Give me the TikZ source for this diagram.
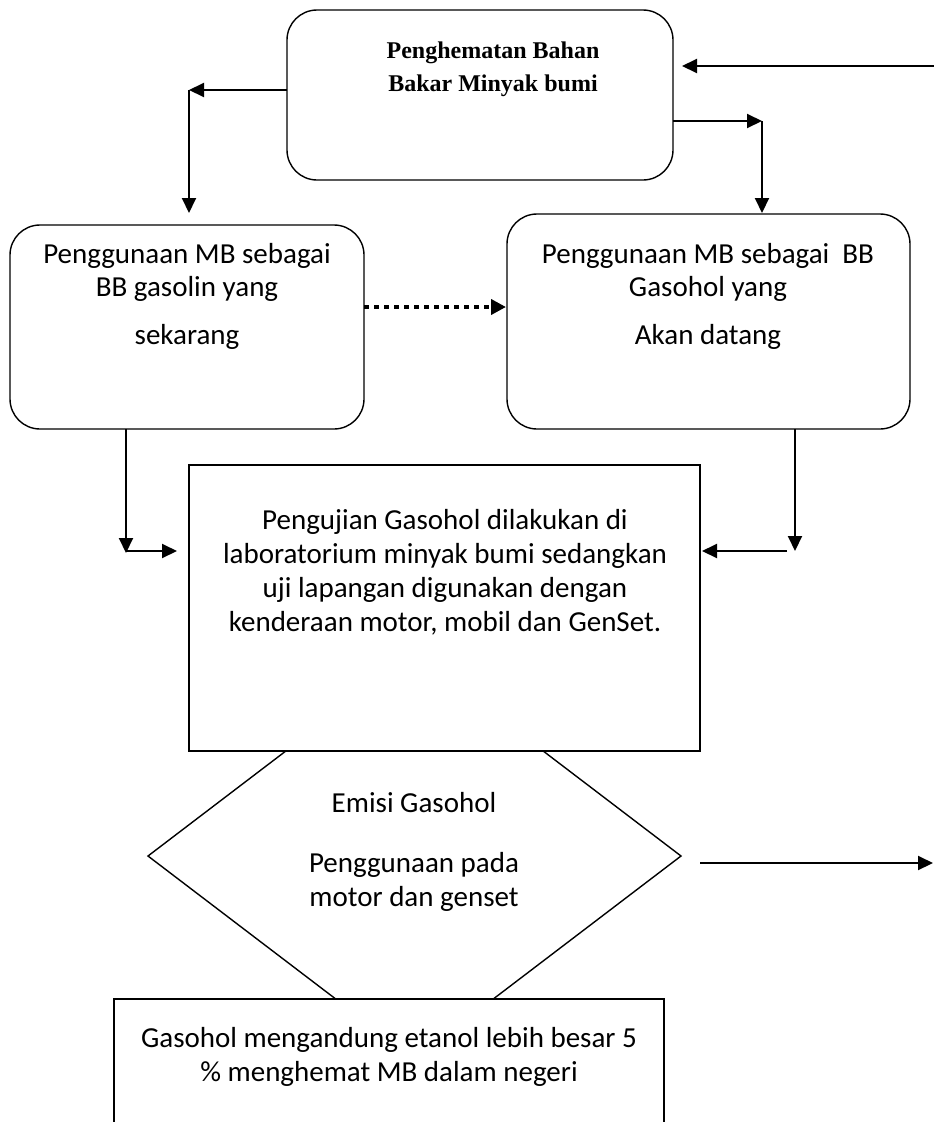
\documentclass[tikz,border=0pt]{standalone}
\usepackage{fontspec}
\setmainfont{Carlito}
\newfontfamily\timesfont{Liberation Serif}
\usetikzlibrary{arrows.meta}
\tikzset{
  boxline/.style={draw=black, line width=1.4pt},
  rbox/.style={boxline, rounded corners=30pt, inner sep=0pt},
  sbox/.style={boxline, fill=white, inner sep=0pt},
  arr/.style={line width=2pt, -{Triangle[length=15pt,width=14pt]}},
  dotarr/.style={line width=4pt, dash pattern=on 5pt off 5pt, -{Triangle[length=15pt,width=15pt]}},
  txt/.style={anchor=base, inner sep=0pt, font=\fontsize{29}{35}\selectfont},
  ttl/.style={anchor=base, inner sep=0pt, font=\timesfont\bfseries\fontsize{24}{32}\selectfont}
}
\begin{document}
\begin{tikzpicture}[x=1pt,y=-1pt]
\useasboundingbox[fill=white] (0,0) rectangle (934,1122);
% boxes
\node[rbox, minimum width=386pt, minimum height=170pt] (top) at (480,95) {};
\node[rbox, minimum width=354pt, minimum height=204pt] (left) at (187,327) {};
\node[rbox, minimum width=403pt, minimum height=215pt] (right) at (708.5,321.5) {};
% diamond
\coordinate (dL) at (148,856);
\coordinate (dT) at (414.5,653);
\coordinate (dR) at (681,856);
\coordinate (dB) at (414.5,1059);
\draw[boxline] (dL) -- (dT) -- (dR) -- (dB) -- cycle;
\node[sbox, minimum width=511pt, minimum height=286pt] (mid) at (444.5,608) {};
\node[sbox, minimum width=550pt, minimum height=160pt] (bot) at (389,1079) {};
% texts
\node[ttl] (t1) at (493,58) {Penghematan Bahan};
\node[ttl] (t2) at (493,91) {Bakar Minyak bumi};
\node[txt] (l1) at (187,263) {Penggunaan MB sebagai};
\node[txt] (l2) at (187,296) {BB gasolin yang};
\node[txt] (l3) at (187,344) {sekarang};
\node[txt] (r1) at (708,263) {Penggunaan MB sebagai\ \ BB};
\node[txt] (r2) at (708,296) {Gasohol yang};
\node[txt] (r3) at (708,344) {Akan datang};
\node[txt] (m1) at (445,529) {Pengujian Gasohol dilakukan di};
\node[txt] (m2) at (445,563) {laboratorium minyak bumi sedangkan};
\node[txt] (m3) at (445,597) {uji lapangan digunakan dengan};
\node[txt] (m4) at (445,631) {kenderaan motor, mobil dan GenSet.};
\node[txt] (d1) at (414,812) {Emisi Gasohol};
\node[txt] (d2) at (414,872) {Penggunaan pada};
\node[txt] (d3) at (414,906) {motor dan genset};
\node[txt] (b1) at (389,1047) {Gasohol mengandung etanol lebih besar 5};
\node[txt] (b2) at (389,1081) {\% menghemat MB dalam negeri};
% connector points
\coordinate (tlA) at (287,90);
\coordinate (tlB) at (189,90);
\coordinate (tlC) at (189,213);
\coordinate (trA) at (673,121);
\coordinate (trB) at (762,121);
\coordinate (trC) at (762,213);
\coordinate (inR) at (934,66);
\coordinate (inT) at (682,66);
\coordinate (dotA) at (364,307);
\coordinate (dotB) at (506,307);
\coordinate (lA) at (126,429);
\coordinate (lB) at (126,553);
\coordinate (lC) at (126,551);
\coordinate (lD) at (177,551);
\coordinate (rA) at (795,429);
\coordinate (rB) at (795,551);
\coordinate (rC) at (787,551);
\coordinate (rD) at (702,551);
\coordinate (eA) at (700,863);
\coordinate (eB) at (933,863);
% connectors
\draw[arr] (tlA) -- (tlB);
\draw[arr] (tlB) -- (tlC);
\draw[arr] (trA) -- (trB);
\draw[arr] (trB) -- (trC);
\draw[arr] (inR) -- (inT);
\draw[dotarr] (dotA) -- (dotB);
\draw[arr] (lA) -- (lB);
\draw[arr] (lC) -- (lD);
\draw[arr] (rA) -- (rB);
\draw[arr] (rC) -- (rD);
\draw[arr] (eA) -- (eB);
\end{tikzpicture}
\end{document}
